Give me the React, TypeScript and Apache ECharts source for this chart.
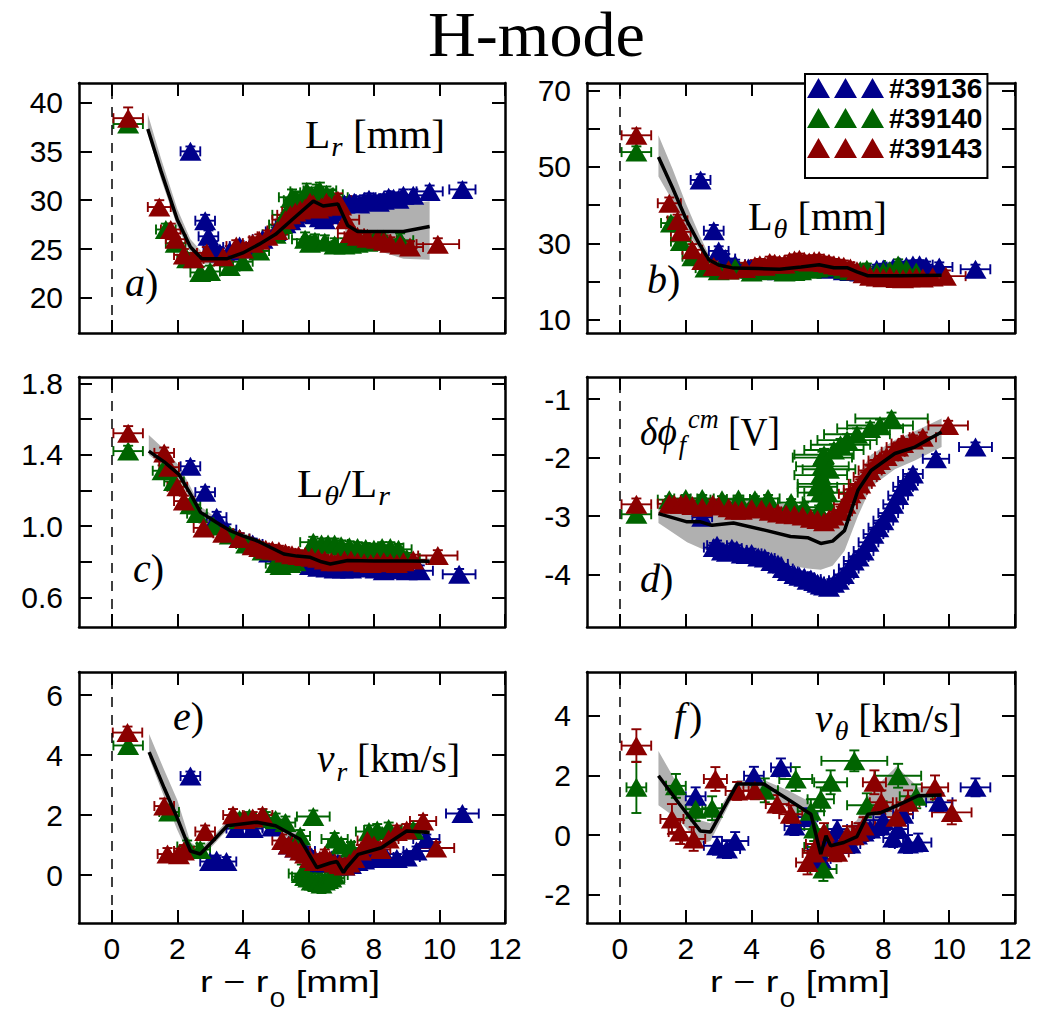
import React, { useEffect, useRef } from "react";
import * as echarts from "echarts";

type Pt = [number, number, number, number]; // x, y, xerr, yerr

const BLUE = "#00008b";
const GREEN = "#006400";
const RED = "#8b0000";
const BAND_COLOR = "#b0b0b0";
const NAMES = ["#39136", "#39140", "#39143"];

const X_MIN = -1;
const X_MAX = 12;
const X_TICKS = [0, 2, 4, 6, 8, 10, 12];

// ---------------- panel a : L_r [mm]
const A_BLUE: Pt[] = [
  [2.4, 35.0, 0.3, 0.5], [2.85, 27.9, 0.3, 0.6], [2.95, 26.3, 0.3, 0.6], [3.1, 25.2, 0.3, 0.6],
  [3.3, 24.6, 0.3, 0.5], [3.6, 24.8, 0.3, 0.5], [3.9, 25.3, 0.3, 0.5], [4.2, 25.0, 0.3, 0.5],
  [4.6, 26.0, 0.3, 0.5], [5.0, 26.8, 0.3, 0.6], [5.3, 27.6, 0.3, 0.6], [5.45, 27.9, 0.3, 0.6],
  [5.6, 28.2, 0.4, 0.6], [5.9, 28.8, 0.4, 0.6], [6.05, 28.6, 0.4, 0.6], [6.2, 28.5, 0.4, 0.6],
  [6.35, 28.2, 0.4, 0.6], [6.5, 28.0, 0.4, 0.6], [6.65, 28.5, 0.4, 0.6], [6.8, 28.8, 0.4, 0.6],
  [7.1, 29.6, 0.4, 0.6], [7.25, 29.7, 0.4, 0.6], [7.4, 29.8, 0.4, 0.6], [7.55, 29.6, 0.4, 0.6],
  [7.7, 29.9, 0.4, 0.6], [7.85, 30.1, 0.4, 0.6], [8.0, 29.9, 0.4, 0.6], [8.15, 29.8, 0.4, 0.6],
  [8.3, 30.0, 0.4, 0.6], [8.45, 30.3, 0.4, 0.6], [8.6, 30.2, 0.4, 0.6], [8.75, 30.1, 0.4, 0.6],
  [8.9, 30.5, 0.4, 0.6], [9.2, 30.5, 0.4, 0.6], [9.7, 30.9, 0.4, 0.6], [10.7, 31.1, 0.4, 0.7],
];
const A_GREEN: Pt[] = [
  [0.5, 37.8, 0.45, 0.6], [1.65, 27.0, 0.3, 0.6], [1.95, 25.6, 0.3, 0.6], [2.3, 24.0, 0.3, 0.6],
  [2.7, 22.6, 0.3, 0.6], [3.0, 22.7, 0.3, 0.6], [3.6, 23.2, 0.3, 0.6], [4.0, 23.7, 0.3, 0.6],
  [4.5, 24.8, 0.3, 0.6], [5.0, 26.5, 0.4, 0.7], [5.2, 27.5, 0.4, 0.7], [5.3, 28.5, 0.4, 0.8],
  [5.5, 30.3, 0.4, 0.8], [5.65, 30.0, 0.4, 0.8], [5.8, 29.8, 0.5, 0.8], [5.95, 30.9, 0.5, 0.8],
  [6.1, 30.5, 0.5, 0.8], [6.25, 30.8, 0.5, 0.8], [6.35, 31.0, 0.5, 0.8], [6.55, 30.6, 0.5, 0.8],
  [6.7, 30.3, 0.5, 0.8], [5.9, 26.0, 0.4, 0.7], [6.05, 25.6, 0.4, 0.7], [6.2, 25.8, 0.4, 0.7],
  [6.5, 25.7, 0.4, 0.7], [6.8, 25.4, 0.4, 0.7], [7.1, 25.4, 0.4, 0.7], [7.3, 25.5, 0.4, 0.7],
  [7.5, 25.6, 0.4, 0.7], [7.8, 25.7, 0.4, 0.7], [8.0, 25.8, 0.4, 0.7], [8.3, 26.0, 0.4, 0.7],
  [8.8, 25.9, 0.4, 0.7],
];
const A_RED: Pt[] = [
  [0.5, 38.4, 0.45, 1.1], [1.45, 29.3, 0.35, 0.7], [1.8, 27.0, 0.3, 0.6], [1.95, 26.0, 0.3, 0.6],
  [2.2, 24.4, 0.3, 0.6], [2.5, 24.0, 0.3, 0.6], [2.9, 24.6, 0.3, 0.6], [3.4, 24.2, 0.3, 0.6],
  [3.8, 25.3, 0.3, 0.6], [4.0, 25.0, 0.3, 0.6], [4.3, 25.6, 0.3, 0.6], [4.5, 25.9, 0.3, 0.6],
  [4.75, 26.3, 0.3, 0.6], [5.05, 26.9, 0.3, 0.6], [5.3, 28.0, 0.4, 0.7], [5.45, 28.5, 0.4, 0.7],
  [5.6, 28.8, 0.4, 0.7], [5.75, 29.0, 0.4, 0.7], [5.9, 29.2, 0.4, 0.7], [6.05, 29.8, 0.4, 0.7],
  [6.15, 29.6, 0.4, 0.7], [6.3, 29.1, 0.4, 0.7], [6.4, 29.3, 0.4, 0.7], [6.55, 29.8, 0.4, 0.7],
  [6.65, 29.4, 0.4, 0.7], [6.8, 29.6, 0.4, 0.7], [6.9, 30.0, 0.4, 0.7], [7.0, 29.4, 0.4, 0.7],
  [7.15, 28.0, 0.4, 0.7], [7.3, 26.6, 0.4, 0.6], [7.5, 26.3, 0.4, 0.6], [7.8, 26.1, 0.4, 0.6],
  [8.1, 26.0, 0.4, 0.6], [8.3, 25.8, 0.4, 0.6], [8.5, 25.6, 0.4, 0.6], [8.8, 25.4, 0.4, 0.6],
  [9.1, 25.2, 0.4, 0.6], [9.95, 25.5, 0.65, 0.6],
];
const A_LINE_X = [1.1, 1.5, 2.0, 2.4, 2.75, 3.5, 4.0, 4.5, 5.0, 5.5, 6.15, 6.45, 6.9, 7.2, 7.5, 8.9, 9.7];
const A_LINE_Y = [37.3, 33.0, 28.0, 25.2, 24.0, 24.0, 24.6, 25.5, 26.5, 28.0, 29.9, 29.4, 29.6, 27.4, 26.8, 26.8, 27.3];
const A_BAND_HI = [38.8, 34.3, 29.1, 26.0, 24.7, 24.7, 25.2, 26.1, 27.2, 28.8, 30.6, 30.2, 30.3, 28.8, 28.6, 29.6, 29.9];
const A_BAND_LO = [36.9, 32.2, 27.3, 24.6, 23.5, 23.5, 24.1, 25.0, 26.0, 27.3, 29.2, 28.6, 28.7, 26.3, 25.5, 24.0, 23.9];

// ---------------- panel b : L_theta [mm]
const B_BLUE: Pt[] = [
  [2.45, 46.6, 0.3, 1.5], [2.85, 33.3, 0.3, 1.5], [3.0, 28.0, 0.3, 1.2], [3.2, 26.0, 0.3, 1.2],
  [3.5, 24.5, 0.3, 1.2], [3.9, 23.5, 0.3, 1.2], [4.0, 23.3, 0.3, 1.2], [4.3, 23.0, 0.3, 1.2],
  [4.8, 22.8, 0.3, 1.2], [5.0, 22.9, 0.3, 1.2], [5.3, 23.5, 0.3, 1.2], [5.8, 23.8, 0.3, 1.2],
  [6.0, 23.6, 0.3, 1.2], [6.3, 23.2, 0.3, 1.2], [6.8, 22.8, 0.3, 1.2], [7.0, 22.6, 0.3, 1.2],
  [7.3, 22.5, 0.4, 1.2], [7.5, 22.7, 0.4, 1.2], [7.8, 23.2, 0.4, 1.2], [8.0, 23.3, 0.4, 1.2],
  [8.3, 23.6, 0.4, 1.2], [8.5, 23.9, 0.4, 1.2], [8.7, 24.0, 0.4, 1.2], [8.9, 24.3, 0.4, 1.2],
  [9.1, 24.4, 0.4, 1.2], [9.3, 24.0, 0.4, 1.2], [9.7, 23.8, 0.4, 1.2], [10.8, 23.2, 0.45, 1.2],
];
const B_GREEN: Pt[] = [
  [0.5, 53.9, 0.45, 1.5], [1.55, 35.3, 0.3, 1.5], [1.85, 30.5, 0.3, 1.5], [2.2, 26.5, 0.3, 1.5],
  [2.6, 23.5, 0.3, 1.5], [3.0, 22.8, 0.3, 1.5], [3.3, 23.0, 0.3, 1.5], [3.5, 23.6, 0.3, 1.5],
  [3.8, 23.2, 0.3, 1.5], [4.0, 22.5, 0.3, 1.5], [4.3, 22.8, 0.3, 1.5], [4.5, 23.0, 0.3, 1.5],
  [4.8, 22.9, 0.3, 1.5], [5.0, 22.5, 0.3, 1.5], [5.3, 22.6, 0.3, 1.5], [5.5, 22.8, 0.3, 1.5],
  [5.8, 23.2, 0.3, 1.5], [6.0, 23.5, 0.4, 1.5], [6.3, 23.9, 0.4, 1.5], [6.5, 23.8, 0.4, 1.5],
  [6.8, 23.2, 0.4, 1.5], [7.0, 22.8, 0.4, 1.5], [7.3, 22.9, 0.4, 1.5], [7.5, 23.2, 0.4, 1.5],
  [7.8, 22.4, 0.4, 1.5], [8.0, 22.6, 0.4, 1.5], [8.2, 22.9, 0.4, 1.5], [8.45, 24.3, 0.4, 1.5],
  [8.7, 23.3, 0.4, 1.5], [9.0, 22.5, 0.4, 1.5],
];
const B_RED: Pt[] = [
  [0.5, 58.3, 0.45, 1.8], [1.5, 40.5, 0.35, 1.5], [1.75, 36.0, 0.3, 1.5], [1.85, 33.0, 0.3, 1.5],
  [2.2, 28.3, 0.3, 1.5], [2.5, 25.5, 0.3, 1.5], [2.85, 23.9, 0.3, 1.5], [3.3, 23.0, 0.3, 1.5],
  [3.8, 23.4, 0.3, 1.5], [4.1, 24.1, 0.3, 1.5], [4.25, 24.4, 0.3, 1.5], [4.4, 24.0, 0.3, 1.5],
  [4.55, 25.0, 0.3, 1.5], [4.7, 24.8, 0.3, 1.5], [4.85, 24.5, 0.3, 1.5], [5.0, 24.6, 0.3, 1.5],
  [5.15, 25.3, 0.3, 1.5], [5.3, 25.6, 0.3, 1.5], [5.45, 25.8, 0.3, 1.5], [5.6, 25.3, 0.3, 1.5],
  [5.75, 25.1, 0.3, 1.5], [5.9, 25.4, 0.3, 1.5], [6.05, 25.5, 0.3, 1.5], [6.2, 25.0, 0.3, 1.5],
  [6.35, 24.8, 0.3, 1.5], [6.5, 24.4, 0.3, 1.5], [6.65, 24.2, 0.3, 1.5], [6.8, 24.0, 0.3, 1.5],
  [7.0, 23.5, 0.3, 1.5], [7.2, 22.8, 0.4, 1.5], [7.4, 22.0, 0.4, 1.5], [7.6, 21.4, 0.4, 1.5],
  [7.8, 21.2, 0.4, 1.5], [8.0, 21.0, 0.4, 1.5], [8.2, 21.3, 0.4, 1.5], [8.4, 20.8, 0.4, 1.5],
  [8.6, 20.7, 0.4, 1.5], [8.8, 21.0, 0.4, 1.5], [9.0, 21.1, 0.4, 1.5], [9.2, 20.9, 0.4, 1.5],
  [9.5, 21.2, 0.4, 1.5], [9.9, 21.4, 0.6, 1.5],
];
const B_LINE_X = [1.17, 1.6, 2.0, 2.4, 2.7, 3.0, 3.45, 4.2, 4.85, 5.5, 6.05, 6.5, 6.9, 7.2, 7.53, 8.5, 9.77];
const B_LINE_Y = [52.6, 44.5, 36.5, 30.0, 25.7, 24.3, 23.5, 23.4, 23.2, 23.8, 24.4, 23.6, 23.6, 22.5, 21.5, 21.5, 21.6];
const B_BAND_HI = [58.3, 49.5, 40.5, 32.5, 27.0, 25.0, 24.2, 24.0, 23.8, 24.4, 25.0, 24.2, 24.2, 23.2, 22.2, 22.2, 22.4];
const B_BAND_LO = [47.5, 41.0, 33.5, 28.5, 24.8, 23.6, 22.8, 22.8, 22.6, 23.2, 23.8, 23.0, 23.0, 21.8, 20.8, 20.8, 20.8];

// ---------------- panel c : L_theta / L_r
const C_BLUE: Pt[] = [
  [2.4, 1.335, 0.3, 0.03], [2.85, 1.19, 0.3, 0.03], [3.2, 1.05, 0.3, 0.03], [3.5, 0.98, 0.3, 0.03],
  [3.9, 0.93, 0.3, 0.03], [4.3, 0.9, 0.3, 0.03], [4.8, 0.85, 0.3, 0.03], [5.3, 0.82, 0.3, 0.03],
  [5.8, 0.8, 0.3, 0.03], [6.05, 0.78, 0.3, 0.03], [6.3, 0.77, 0.3, 0.03], [6.55, 0.765, 0.3, 0.03],
  [6.8, 0.76, 0.3, 0.03], [7.05, 0.76, 0.3, 0.03], [7.3, 0.76, 0.4, 0.03], [7.55, 0.765, 0.4, 0.03],
  [7.8, 0.77, 0.4, 0.03], [8.05, 0.76, 0.4, 0.03], [8.3, 0.75, 0.4, 0.03], [8.55, 0.755, 0.4, 0.03],
  [8.8, 0.76, 0.4, 0.03], [9.0, 0.75, 0.4, 0.03], [9.4, 0.75, 0.4, 0.03], [10.6, 0.73, 0.5, 0.03],
];
const C_GREEN: Pt[] = [
  [0.5, 1.42, 0.45, 0.03], [1.55, 1.31, 0.3, 0.03], [1.9, 1.25, 0.3, 0.03], [2.4, 1.12, 0.3, 0.03],
  [2.6, 1.07, 0.3, 0.03], [3.1, 1.0, 0.3, 0.03], [3.6, 0.95, 0.3, 0.03], [4.1, 0.9, 0.3, 0.03],
  [4.6, 0.86, 0.3, 0.03], [5.0, 0.79, 0.3, 0.03], [5.15, 0.78, 0.3, 0.03], [5.3, 0.79, 0.3, 0.03],
  [5.45, 0.79, 0.3, 0.03], [5.6, 0.8, 0.3, 0.03], [6.15, 0.91, 0.4, 0.03], [6.4, 0.9, 0.4, 0.03],
  [6.6, 0.9, 0.4, 0.03], [6.8, 0.9, 0.4, 0.03], [7.0, 0.89, 0.4, 0.03], [7.25, 0.885, 0.4, 0.03],
  [7.5, 0.88, 0.4, 0.03], [7.75, 0.875, 0.4, 0.03], [8.0, 0.87, 0.4, 0.03], [8.25, 0.88, 0.4, 0.03],
  [8.5, 0.88, 0.4, 0.03], [8.75, 0.87, 0.4, 0.03], [9.0, 0.82, 0.4, 0.03],
];
const C_RED: Pt[] = [
  [0.5, 1.52, 0.45, 0.04], [1.6, 1.41, 0.3, 0.03], [1.75, 1.33, 0.3, 0.03], [2.0, 1.22, 0.3, 0.03],
  [2.2, 1.14, 0.3, 0.03], [2.8, 0.99, 0.3, 0.03], [3.4, 0.96, 0.3, 0.03], [3.9, 0.93, 0.3, 0.03],
  [4.3, 0.89, 0.3, 0.03], [4.5, 0.88, 0.3, 0.03], [4.7, 0.87, 0.3, 0.03], [4.9, 0.865, 0.3, 0.03],
  [5.1, 0.86, 0.3, 0.03], [5.3, 0.85, 0.3, 0.03], [5.5, 0.84, 0.3, 0.03], [5.7, 0.835, 0.3, 0.03],
  [5.9, 0.83, 0.3, 0.03], [6.1, 0.825, 0.3, 0.03], [6.3, 0.82, 0.3, 0.03], [6.5, 0.81, 0.3, 0.03],
  [6.7, 0.8, 0.3, 0.03], [6.9, 0.8, 0.3, 0.03], [7.1, 0.81, 0.3, 0.03], [7.3, 0.81, 0.3, 0.03],
  [7.5, 0.8, 0.3, 0.03], [7.7, 0.795, 0.3, 0.03], [7.9, 0.79, 0.3, 0.03], [8.1, 0.8, 0.3, 0.03],
  [8.3, 0.8, 0.3, 0.03], [8.5, 0.795, 0.3, 0.03], [8.7, 0.79, 0.3, 0.03], [8.9, 0.8, 0.3, 0.03],
  [9.2, 0.81, 0.4, 0.03], [9.95, 0.835, 0.6, 0.03],
];
const C_LINE_X = [1.13, 1.6, 2.05, 2.4, 2.71, 3.2, 3.62, 4.0, 4.43, 4.85, 5.25, 5.65, 6.06, 6.4, 6.67, 7.2, 8.0, 9.0, 9.7];
const C_LINE_Y = [1.42, 1.36, 1.29, 1.18, 1.077, 1.02, 0.974, 0.945, 0.918, 0.88, 0.844, 0.832, 0.825, 0.8, 0.788, 0.807, 0.805, 0.805, 0.803];
const C_BAND_HI = [1.51, 1.43, 1.34, 1.22, 1.11, 1.045, 0.995, 0.962, 0.934, 0.895, 0.858, 0.846, 0.838, 0.814, 0.802, 0.821, 0.819, 0.819, 0.818];
const C_BAND_LO = [1.4, 1.33, 1.26, 1.15, 1.05, 1.0, 0.955, 0.928, 0.902, 0.865, 0.83, 0.818, 0.812, 0.786, 0.774, 0.793, 0.791, 0.791, 0.789];

// ---------------- panel d : delta phi_f^cm [V]
const D_BLUE: Pt[] = [
  [2.5, -3.02, 0.3, 0.06], [2.85, -3.54, 0.3, 0.08], [2.95, -3.5, 0.3, 0.08], [3.1, -3.6, 0.3, 0.08],
  [3.25, -3.62, 0.3, 0.08], [3.4, -3.55, 0.3, 0.08], [3.55, -3.58, 0.3, 0.08], [3.7, -3.65, 0.3, 0.08],
  [3.85, -3.66, 0.3, 0.08], [4.0, -3.64, 0.3, 0.08], [4.2, -3.7, 0.3, 0.08], [4.4, -3.72, 0.3, 0.08],
  [4.6, -3.78, 0.3, 0.08], [4.8, -3.82, 0.3, 0.08], [4.95, -3.9, 0.3, 0.08], [5.1, -3.95, 0.3, 0.08],
  [5.3, -4.0, 0.3, 0.08], [5.45, -4.03, 0.3, 0.08], [5.6, -4.05, 0.3, 0.08], [5.7, -4.1, 0.3, 0.08],
  [5.8, -4.08, 0.3, 0.08], [5.9, -4.12, 0.3, 0.08], [6.0, -4.15, 0.3, 0.08], [6.1, -4.18, 0.3, 0.08],
  [6.2, -4.2, 0.3, 0.08], [6.35, -4.22, 0.3, 0.08], [6.5, -4.15, 0.3, 0.08], [6.65, -4.1, 0.3, 0.08],
  [6.8, -4.0, 0.3, 0.08], [6.95, -3.9, 0.3, 0.08], [7.1, -3.77, 0.3, 0.08], [7.25, -3.7, 0.3, 0.08],
  [7.4, -3.6, 0.3, 0.08], [7.55, -3.45, 0.3, 0.08], [7.7, -3.31, 0.3, 0.08], [7.85, -3.2, 0.3, 0.08],
  [8.0, -3.08, 0.3, 0.08], [8.15, -2.95, 0.3, 0.08], [8.3, -2.8, 0.3, 0.08], [8.45, -2.65, 0.3, 0.08],
  [8.6, -2.5, 0.3, 0.08], [8.75, -2.4, 0.3, 0.08], [8.9, -2.28, 0.3, 0.08], [9.6, -2.02, 0.4, 0.08],
  [10.8, -1.82, 0.5, 0.08],
];
const D_GREEN: Pt[] = [
  [0.5, -2.97, 0.45, 0.06], [1.5, -2.72, 0.35, 0.06], [2.0, -2.7, 0.35, 0.06], [2.5, -2.7, 0.35, 0.06],
  [3.1, -2.72, 0.35, 0.06], [3.6, -2.71, 0.35, 0.06], [4.1, -2.72, 0.35, 0.06], [4.5, -2.7, 0.35, 0.06],
  [5.2, -2.77, 0.4, 0.06], [5.6, -2.85, 0.5, 0.08], [6.0, -2.5, 0.6, 0.08], [6.05, -2.9, 0.6, 0.08],
  [6.1, -2.6, 0.7, 0.08], [6.1, -2.3, 0.8, 0.08], [6.15, -2.15, 0.8, 0.08], [6.15, -2.0, 0.9, 0.1],
  [6.2, -1.95, 0.9, 0.1], [6.2, -2.45, 0.8, 0.08], [6.25, -2.75, 0.7, 0.08], [6.3, -2.6, 0.7, 0.08],
  [6.35, -2.2, 0.8, 0.08], [6.5, -1.87, 0.9, 0.1], [6.7, -1.78, 0.9, 0.1], [6.9, -1.7, 0.9, 0.1],
  [7.2, -1.6, 1.0, 0.1], [7.6, -1.5, 1.0, 0.1], [7.9, -1.45, 1.0, 0.1], [8.25, -1.33, 1.1, 0.1],
];
const D_RED: Pt[] = [
  [0.5, -2.8, 0.45, 0.1], [1.5, -2.79, 0.35, 0.08], [1.65, -2.8, 0.35, 0.08], [1.85, -2.8, 0.35, 0.08],
  [2.0, -2.78, 0.35, 0.08], [2.2, -2.82, 0.35, 0.08], [2.5, -2.85, 0.35, 0.08], [2.82, -2.8, 0.35, 0.08],
  [3.0, -2.83, 0.35, 0.08], [3.3, -2.86, 0.35, 0.08], [3.5, -2.9, 0.35, 0.08], [3.7, -2.9, 0.35, 0.08],
  [4.0, -2.87, 0.35, 0.08], [4.3, -2.88, 0.35, 0.08], [4.55, -2.92, 0.35, 0.08], [4.8, -2.95, 0.35, 0.08],
  [5.05, -2.97, 0.35, 0.08], [5.3, -2.98, 0.35, 0.08], [5.55, -3.0, 0.35, 0.08], [5.8, -3.04, 0.35, 0.08],
  [6.0, -3.06, 0.35, 0.08], [6.2, -3.1, 0.35, 0.08], [6.35, -3.05, 0.35, 0.08], [6.5, -3.0, 0.35, 0.08],
  [6.7, -2.92, 0.35, 0.08], [6.85, -2.8, 0.35, 0.08], [7.0, -2.62, 0.35, 0.08], [7.15, -2.55, 0.35, 0.08],
  [7.3, -2.45, 0.35, 0.08], [7.45, -2.33, 0.35, 0.08], [7.6, -2.22, 0.35, 0.08], [7.75, -2.12, 0.35, 0.08],
  [7.9, -2.05, 0.35, 0.08], [8.1, -1.98, 0.35, 0.08], [8.3, -1.9, 0.35, 0.08], [8.45, -1.82, 0.35, 0.08],
  [8.6, -1.76, 0.35, 0.08], [8.9, -1.7, 0.35, 0.08], [9.2, -1.65, 0.4, 0.08], [9.97, -1.45, 0.6, 0.08],
];
const D_LINE_X = [1.17, 2.04, 2.45, 2.8, 3.45, 4.46, 5.18, 5.7, 6.1, 6.46, 6.82, 7.23, 7.63, 8.35, 8.96, 9.77];
const D_LINE_Y = [-2.96, -3.1, -3.1, -3.16, -3.12, -3.25, -3.35, -3.37, -3.47, -3.43, -3.25, -2.56, -2.22, -1.93, -1.82, -1.56];
const D_BAND_HI = [-2.8, -2.72, -2.68, -2.7, -2.68, -2.72, -2.82, -2.95, -3.1, -3.05, -2.9, -2.3, -1.95, -1.7, -1.55, -1.33];
const D_BAND_LO = [-3.12, -3.45, -3.55, -3.62, -3.65, -3.75, -3.85, -3.9, -3.92, -3.85, -3.6, -3.0, -2.5, -2.2, -2.05, -1.82];

// ---------------- panel e : v_r [km/s]
const E_BLUE: Pt[] = [
  [2.4, 3.3, 0.3, 0.15], [3.0, 0.45, 0.3, 0.15], [3.2, 0.5, 0.3, 0.15], [3.5, 0.45, 0.3, 0.15],
  [3.8, 1.55, 0.3, 0.15], [4.3, 1.55, 0.3, 0.15], [4.9, 1.6, 0.3, 0.15], [5.4, 1.0, 0.3, 0.15],
  [5.6, 0.9, 0.3, 0.15], [5.9, 0.8, 0.3, 0.15], [6.1, 0.6, 0.3, 0.15], [6.3, 0.4, 0.3, 0.15],
  [6.5, 0.45, 0.3, 0.15], [6.7, 0.5, 0.3, 0.15], [6.9, 0.4, 0.3, 0.15], [7.1, 0.3, 0.3, 0.15],
  [7.3, 0.35, 0.3, 0.15], [7.5, 0.45, 0.3, 0.15], [7.7, 0.5, 0.3, 0.15], [7.9, 0.6, 0.4, 0.15],
  [8.2, 0.55, 0.4, 0.15], [8.4, 0.55, 0.4, 0.15], [8.7, 0.55, 0.4, 0.15], [9.0, 0.6, 0.4, 0.15],
  [9.3, 0.8, 0.4, 0.15], [9.6, 1.2, 0.4, 0.15], [10.7, 2.05, 0.5, 0.15],
];
const E_GREEN: Pt[] = [
  [0.5, 4.32, 0.45, 0.15], [1.75, 2.1, 0.3, 0.2], [2.3, 0.95, 0.3, 0.2], [2.7, 0.85, 0.3, 0.2],
  [3.9, 1.85, 0.3, 0.2], [4.2, 1.9, 0.3, 0.2], [4.7, 1.9, 0.3, 0.2], [5.0, 1.85, 0.3, 0.2],
  [5.3, 1.75, 0.3, 0.2], [5.75, 1.3, 0.3, 0.2], [6.15, 1.95, 0.5, 0.2], [5.8, 0.05, 0.4, 0.3],
  [5.9, -0.05, 0.4, 0.3], [6.0, -0.1, 0.4, 0.3], [6.1, -0.2, 0.4, 0.3], [6.2, -0.2, 0.4, 0.3],
  [6.3, -0.25, 0.4, 0.3], [6.4, -0.3, 0.4, 0.3], [6.5, -0.2, 0.4, 0.3], [6.6, -0.15, 0.4, 0.3],
  [6.7, -0.1, 0.4, 0.3], [6.8, 0.0, 0.4, 0.3], [6.8, 1.2, 0.4, 0.2], [7.0, 1.0, 0.4, 0.2],
  [7.3, 0.9, 0.4, 0.2], [7.85, 1.45, 0.4, 0.2], [8.1, 1.5, 0.4, 0.2], [8.45, 1.55, 0.4, 0.2],
  [9.2, 1.5, 0.4, 0.2],
];
const E_RED: Pt[] = [
  [0.48, 4.75, 0.45, 0.2], [1.6, 2.3, 0.3, 0.25], [1.7, 0.7, 0.3, 0.2], [2.05, 0.68, 0.3, 0.2],
  [2.2, 0.8, 0.3, 0.2], [2.85, 1.45, 0.3, 0.2], [3.7, 2.0, 0.3, 0.2], [4.05, 1.85, 0.3, 0.2],
  [4.3, 1.9, 0.3, 0.2], [4.6, 2.0, 0.3, 0.2], [5.2, 1.15, 0.3, 0.2], [5.4, 1.0, 0.3, 0.2],
  [5.6, 0.9, 0.3, 0.2], [5.75, 0.8, 0.3, 0.2], [5.9, 0.7, 0.3, 0.2], [6.05, 0.55, 0.3, 0.2],
  [6.2, 0.45, 0.3, 0.2], [6.35, 0.5, 0.3, 0.2], [6.5, 0.65, 0.3, 0.2], [6.65, 0.5, 0.3, 0.2],
  [6.8, 0.4, 0.3, 0.2], [6.95, 0.35, 0.3, 0.2], [7.1, 0.3, 0.3, 0.2], [7.25, 0.4, 0.3, 0.2],
  [7.4, 0.55, 0.3, 0.2], [7.6, 0.8, 0.3, 0.2], [7.8, 1.15, 0.3, 0.2], [8.0, 1.0, 0.3, 0.2],
  [8.2, 0.85, 0.3, 0.2], [8.45, 1.2, 0.3, 0.2], [8.7, 1.45, 0.3, 0.2], [9.0, 1.5, 0.3, 0.2],
  [9.5, 1.8, 0.4, 0.2], [9.9, 0.9, 0.55, 0.2],
];
const E_LINE_X = [1.14, 1.6, 2.0, 2.4, 2.7, 3.1, 3.52, 4.43, 5.0, 5.75, 6.26, 6.67, 6.87, 7.07, 7.17, 7.52, 8.23, 9.0, 9.7];
const E_LINE_Y = [4.1, 2.9, 1.9, 0.8, 0.7, 1.15, 1.64, 1.76, 1.64, 1.19, 0.25, 0.4, 0.45, 0.08, 0.25, 0.69, 0.91, 1.47, 1.42];
const E_BAND_HI = [4.7, 3.5, 2.5, 1.1, 0.85, 1.3, 1.8, 1.9, 1.8, 1.4, 0.5, 0.6, 0.65, 0.35, 0.45, 0.85, 1.05, 1.6, 1.6];
const E_BAND_LO = [3.9, 2.6, 1.5, 0.55, 0.55, 1.0, 1.5, 1.62, 1.48, 0.95, 0.05, 0.2, 0.25, -0.15, 0.05, 0.5, 0.75, 1.3, 1.25];

// ---------------- panel f : v_theta [km/s]
const F_BLUE: Pt[] = [
  [2.3, 1.3, 0.3, 0.3], [2.95, -0.36, 0.4, 0.3], [3.25, -0.47, 0.4, 0.3], [3.5, -0.2, 0.4, 0.3],
  [4.07, 1.99, 0.3, 0.3], [4.89, 2.27, 0.3, 0.3], [5.3, 0.3, 0.3, 0.3], [5.7, 0.6, 0.3, 0.3],
  [6.0, -0.5, 0.3, 0.3], [6.1, -0.8, 0.3, 0.3], [6.3, -0.2, 0.3, 0.3], [6.45, -0.1, 0.3, 0.3],
  [6.6, 0.2, 0.3, 0.3], [6.8, -0.2, 0.3, 0.3], [7.0, -0.3, 0.3, 0.3], [7.2, 0.0, 0.3, 0.3],
  [7.4, 0.1, 0.3, 0.3], [7.6, 0.2, 0.3, 0.3], [7.9, 0.3, 0.3, 0.3], [8.0, 0.5, 0.3, 0.3],
  [8.3, -0.1, 0.3, 0.3], [8.45, 0.2, 0.3, 0.3], [8.6, 0.7, 0.3, 0.3], [8.75, -0.3, 0.4, 0.3],
  [9.06, -0.25, 0.4, 0.3], [9.7, 1.1, 0.4, 0.3], [10.8, 1.6, 0.45, 0.3],
];
const F_GREEN: Pt[] = [
  [0.5, 1.6, 0.3, 0.86], [1.7, 1.65, 0.3, 0.4], [2.3, 0.87, 0.3, 0.4], [2.8, 0.9, 0.3, 0.4],
  [4.4, 1.5, 0.4, 0.4], [5.34, 1.88, 0.5, 0.4], [5.8, 0.8, 0.4, 0.4], [5.9, 0.2, 0.4, 0.4],
  [6.0, -0.4, 0.4, 0.4], [6.1, 1.2, 0.4, 0.4], [6.18, -1.14, 0.4, 0.4], [6.4, 1.77, 0.5, 0.4],
  [7.12, 2.49, 1.0, 0.35], [7.5, 1.0, 0.6, 0.4], [8.45, 1.99, 0.7, 0.4], [9.0, 1.3, 0.5, 0.4],
];
const F_RED: Pt[] = [
  [0.5, 3.0, 0.45, 0.55], [1.58, 0.54, 0.35, 0.5], [1.83, 0.1, 0.35, 0.4], [2.24, -0.13, 0.35, 0.4],
  [2.9, 1.88, 0.35, 0.4], [3.56, 1.48, 0.35, 0.3], [4.1, 1.5, 0.35, 0.3], [4.78, 1.04, 0.35, 0.3],
  [5.19, 0.7, 0.35, 0.3], [5.7, -0.92, 0.35, 0.4], [5.9, -0.6, 0.35, 0.3], [6.0, -0.3, 0.35, 0.3],
  [6.2, 0.1, 0.35, 0.3], [6.4, -0.4, 0.35, 0.3], [6.6, -0.58, 0.35, 0.3], [6.75, -0.3, 0.35, 0.3],
  [6.9, 0.0, 0.35, 0.3], [7.1, -0.02, 0.35, 0.3], [7.25, 0.1, 0.35, 0.3], [7.4, 0.3, 0.35, 0.3],
  [7.73, 1.77, 0.35, 0.4], [7.94, 1.1, 0.35, 0.4], [8.4, 0.6, 0.35, 0.4], [8.75, 1.1, 0.35, 0.4],
  [9.57, 1.6, 0.4, 0.4], [10.08, 0.76, 0.6, 0.4],
];
const F_LINE_X = [1.17, 1.8, 2.44, 2.75, 3.56, 4.37, 5.1, 5.8, 6.1, 6.26, 6.4, 6.8, 7.2, 7.53, 7.94, 8.4, 9.06, 9.77];
const F_LINE_Y = [1.99, 1.05, 0.14, 0.1, 1.71, 1.71, 1.2, 0.7, -0.64, -0.02, -0.36, -0.25, -0.05, 0.7, 0.76, 0.98, 1.32, 1.34];
const F_BAND_HI = [2.82, 1.6, 0.5, 0.4, 1.85, 1.85, 1.5, 1.1, 0.0, 0.3, 0.1, 0.2, 0.5, 1.3, 1.8, 2.3, 1.6, 1.6];
const F_BAND_LO = [1.0, 0.5, -0.3, -0.2, 1.55, 1.55, 0.9, 0.3, -1.0, -0.4, -0.6, -0.6, -0.4, 0.3, 0.45, 0.7, 1.05, 1.1];

// ---------------- axes per panel
const A_Y = { min: 16.4, max: 42, ticks: [20, 25, 30, 35, 40], labels: [20, 25, 30, 35, 40], dec: 0 };
const B_Y = { min: 6.5, max: 72, ticks: [10, 20, 30, 40, 50, 60, 70], labels: [10, 30, 50, 70], dec: 0 };
const C_Y = { min: 0.435, max: 1.835, ticks: [0.6, 0.8, 1.0, 1.2, 1.4, 1.6, 1.8], labels: [0.6, 1.0, 1.4, 1.8], dec: 1 };
const D_Y = { min: -4.9, max: -0.62, ticks: [-4, -3, -2, -1], labels: [-4, -3, -2, -1], dec: 0 };
const E_Y = { min: -1.6, max: 6.77, ticks: [0, 2, 4, 6], labels: [0, 2, 4, 6], dec: 0 };
const F_Y = { min: -2.95, max: 5.47, ticks: [-2, 0, 2, 4], labels: [-2, 0, 2, 4], dec: 0 };

const SERIF = '"Liberation Serif", "Times New Roman", Times, serif';
const SANS = '"Liberation Sans", Arial, Helvetica, sans-serif';

const COLS = [
  { left: 79, width: 426 },
  { left: 587, width: 428 },
];
const ROWS = [
  { top: 83, height: 250 },
  { top: 377, height: 250 },
  { top: 672, height: 251 },
];

const PANELS = [
  { y: A_Y, blue: A_BLUE, green: A_GREEN, red: A_RED, lx: A_LINE_X, ly: A_LINE_Y, hi: A_BAND_HI, lo: A_BAND_LO },
  { y: B_Y, blue: B_BLUE, green: B_GREEN, red: B_RED, lx: B_LINE_X, ly: B_LINE_Y, hi: B_BAND_HI, lo: B_BAND_LO },
  { y: C_Y, blue: C_BLUE, green: C_GREEN, red: C_RED, lx: C_LINE_X, ly: C_LINE_Y, hi: C_BAND_HI, lo: C_BAND_LO },
  { y: D_Y, blue: D_BLUE, green: D_GREEN, red: D_RED, lx: D_LINE_X, ly: D_LINE_Y, hi: D_BAND_HI, lo: D_BAND_LO },
  { y: E_Y, blue: E_BLUE, green: E_GREEN, red: E_RED, lx: E_LINE_X, ly: E_LINE_Y, hi: E_BAND_HI, lo: E_BAND_LO },
  { y: F_Y, blue: F_BLUE, green: F_GREEN, red: F_RED, lx: F_LINE_X, ly: F_LINE_Y, hi: F_BAND_HI, lo: F_BAND_LO },
];

// ---------------- text helpers
let measureCtx: CanvasRenderingContext2D | null = null;
function textWidth(t: string, font: string, size: number): number {
  if (!measureCtx) {
    const c = document.createElement("canvas");
    measureCtx = c.getContext("2d");
  }
  if (!measureCtx) return t.length * 0.5 * size;
  measureCtx.font = font;
  return measureCtx.measureText(t).width;
}

type Part = { t: string; size: number; italic?: boolean; dy?: number; sameX?: boolean; dx?: number };

function richLabel(parts: Part[], x0: number, baseline: number, target: number | null, family: string) {
  let cx = 0;
  let lastX = 0;
  const children: any[] = [];
  for (const p of parts) {
    const font = `${p.italic ? "italic " : ""}${p.size}px ${family}`;
    const w = textWidth(p.t, font, p.size);
    const px = (p.sameX ? lastX : cx) + (p.dx || 0);
    children.push({
      type: "text",
      x: px,
      y: baseline + (p.dy || 0) - 0.34 * p.size,
      style: {
        text: p.t,
        font,
        fill: "#000",
        textAlign: "left",
        textVerticalAlign: "middle",
        align: "left",
        verticalAlign: "middle",
      },
    });
    lastX = px;
    cx = Math.max(cx, px + w);
  }
  const s = target ? target / cx : 1;
  return { type: "group", x: x0, y: 0, scaleX: s, silent: true, children };
}

function buildGraphics() {
  const g: any[] = [];
  g.push(richLabel([{ t: "H-mode", size: 64 }], 428, 56, 217, SERIF));
  // panel tags
  const tag = (ch: string, x: number, b: number) =>
    richLabel([{ t: ch, size: 40, italic: true }, { t: ")", size: 40, dx: ch === "f" ? 4 : 0 }], x, b, null, SERIF);
  g.push(tag("a", 125, 296));
  g.push(tag("b", 647, 293));
  g.push(tag("c", 133, 582));
  g.push(tag("d", 640, 592));
  g.push(tag("e", 173, 730));
  g.push(tag("f", 674, 730));
  // quantity labels
  g.push(richLabel([{ t: "L", size: 40 }, { t: "r", size: 28, italic: true, dy: 8, dx: 1 }, { t: " [mm]", size: 40 }], 305, 148, 140, SERIF));
  g.push(richLabel([{ t: "L", size: 40 }, { t: "θ", size: 28, italic: true, dy: 8, dx: 1 }, { t: " [mm]", size: 40 }], 748, 230, 139, SERIF));
  g.push(richLabel([{ t: "L", size: 40 }, { t: "θ", size: 28, italic: true, dy: 8, dx: 1 }, { t: "/L", size: 40 }, { t: "r", size: 28, italic: true, dy: 8, dx: 1 }], 297, 497, 93, SERIF));
  g.push(richLabel([
    { t: "δϕ", size: 40, italic: true },
    { t: "f", size: 28, italic: true, dy: 9, dx: 2 },
    { t: "cm", size: 28, italic: true, dy: -17, sameX: true, dx: 10 },
    { t: " [V]", size: 40 },
  ], 640, 445, 140, SERIF));
  g.push(richLabel([{ t: "v", size: 40, italic: true }, { t: "r", size: 28, italic: true, dy: 8, dx: 2 }, { t: " [km/s]", size: 40 }], 317, 773, 143, SERIF));
  g.push(richLabel([{ t: "v", size: 40, italic: true }, { t: "θ", size: 28, italic: true, dy: 8, dx: 2 }, { t: " [km/s]", size: 40 }], 815, 732, 147, SERIF));
  // x axis titles
  const xTitle = (x: number) =>
    richLabel([{ t: "r − r", size: 30 }, { t: "0", size: 22, dy: 15, dx: 1 }, { t: " [mm]", size: 30 }], x, 992, 180, SANS);
  g.push(xTitle(200));
  g.push(xTitle(710));
  return g;
}

function buildOption() {
  const grid: any[] = [];
  const xAxis: any[] = [];
  const yAxis: any[] = [];
  const series: any[] = [];

  const axisLine = { show: true, onZero: false, lineStyle: { color: "#000", width: 2.5 } };

  PANELS.forEach((p, i) => {
    const col = COLS[i % 2];
    const row = ROWS[Math.floor(i / 2)];
    grid.push({ left: col.left, top: row.top, width: col.width, height: row.height, containLabel: false });

    const xCommon = {
      type: "value",
      gridIndex: i,
      min: X_MIN,
      max: X_MAX,
      axisLine,
      splitLine: { show: false },
      axisTick: { show: true, inside: true, length: 13, lineStyle: { color: "#000", width: 2 }, customValues: X_TICKS },
    };
    xAxis.push({
      ...xCommon,
      position: "bottom",
      axisLabel: {
        show: i >= 4,
        customValues: X_TICKS,
        color: "#000",
        fontSize: 30,
        fontFamily: SANS,
        margin: 10,
        showMinLabel: true,
        showMaxLabel: true,
      },
    });
    xAxis.push({ ...xCommon, position: "top", axisLabel: { show: false } });

    const yCommon = {
      type: "value",
      gridIndex: i,
      min: p.y.min,
      max: p.y.max,
      axisLine,
      splitLine: { show: false },
      axisTick: { show: true, inside: true, length: 13, lineStyle: { color: "#000", width: 2 }, customValues: p.y.ticks },
    };
    const dec = p.y.dec;
    yAxis.push({
      ...yCommon,
      position: "left",
      axisLabel: {
        show: true,
        customValues: p.y.labels,
        color: "#000",
        fontSize: 30,
        fontFamily: SANS,
        margin: 16,
        showMinLabel: true,
        showMaxLabel: true,
        formatter: (v: number) => v.toFixed(dec),
      },
    });
    yAxis.push({ ...yCommon, position: "right", axisLabel: { show: false } });

    const xi = 2 * i;
    const yi = 2 * i;

    // grey band
    const bandRows = p.lx.map((x, k) => [x, p.lo[k], p.hi[k]]);
    series.push({
      type: "custom",
      xAxisIndex: xi,
      yAxisIndex: yi,
      silent: true,
      z: 1,
      data: bandRows,
      encode: { x: 0, y: [1, 2] },
      renderItem: (params: any, api: any) => {
        if (params.dataIndex !== 0) return null;
        const top = bandRows.map((r) => api.coord([r[0], r[2]]));
        const bot = bandRows.map((r) => api.coord([r[0], r[1]])).reverse();
        return { type: "polygon", shape: { points: top.concat(bot) }, style: { fill: BAND_COLOR } };
      },
      markLine: {
        silent: true,
        symbol: ["none", "none"],
        label: { show: false },
        lineStyle: { color: "#000", type: [10, 8], width: 1.5 },
        data: [{ xAxis: 0 }],
      },
    });

    const groups: [Pt[], string, string][] = [
      [p.blue, BLUE, NAMES[0]],
      [p.green, GREEN, NAMES[1]],
      [p.red, RED, NAMES[2]],
    ];
    groups.forEach(([pts, color, name]) => {
      series.push({
        type: "custom",
        xAxisIndex: xi,
        yAxisIndex: yi,
        silent: true,
        z: 2,
        data: pts,
        encode: { x: 0, y: 1 },
        renderItem: (params: any, api: any) => {
          const x = api.value(0);
          const y = api.value(1);
          const ex = api.value(2);
          const ey = api.value(3);
          const l = api.coord([x - ex, y]);
          const r = api.coord([x + ex, y]);
          const t = api.coord([x, y + ey]);
          const b = api.coord([x, y - ey]);
          const c = 5;
          const st = { stroke: color, lineWidth: 1.9 };
          const ln = (x1: number, y1: number, x2: number, y2: number) => ({
            type: "line",
            shape: { x1, y1, x2, y2 },
            style: st,
          });
          return {
            type: "group",
            children: [
              ln(l[0], l[1], r[0], r[1]),
              ln(l[0], l[1] - c, l[0], l[1] + c),
              ln(r[0], r[1] - c, r[0], r[1] + c),
              ln(t[0], t[1], b[0], b[1]),
              ln(t[0] - c, t[1], t[0] + c, t[1]),
              ln(b[0] - c, b[1], b[0] + c, b[1]),
            ],
          };
        },
      });
      series.push({
        type: "scatter",
        name,
        xAxisIndex: xi,
        yAxisIndex: yi,
        silent: true,
        z: 2,
        data: pts.map((q) => [q[0], q[1]]),
        symbol: "triangle",
        symbolSize: [22, 19],
        itemStyle: { color, opacity: 1 },
      });
    });

    series.push({
      type: "line",
      xAxisIndex: xi,
      yAxisIndex: yi,
      silent: true,
      z: 3,
      data: p.lx.map((x, k) => [x, p.ly[k]]),
      symbol: "none",
      showSymbol: false,
      lineStyle: { color: "#000", width: 3.5 },
    });
  });

  return {
    animation: false,
    backgroundColor: "#fff",
    grid,
    xAxis,
    yAxis,
    series,
    legend: {
      data: NAMES,
      orient: "vertical",
      left: 805,
      top: 74,
      itemWidth: 77,
      itemHeight: 20,
      itemGap: 2,
      icon: "path://M0,20L11.5,0L23,20ZM27,20L38.5,0L50,20ZM54,20L65.5,0L77,20Z",
      textStyle: { fontFamily: SANS, fontWeight: "bold", fontSize: 28, color: "#000" },
      borderColor: "#000",
      borderWidth: 2,
      borderRadius: 0,
      backgroundColor: "#fff",
      padding: [0, 5, 16, 2],
      selectedMode: false,
      z: 10,
    },
    graphic: buildGraphics(),
  };
}

export default function App() {
  const ref = useRef<HTMLDivElement>(null);
  useEffect(() => {
    document.body.style.margin = "0";
    if (!ref.current) return;
    const chart = echarts.init(ref.current, null, { renderer: "svg" });
    chart.setOption(buildOption() as any);
    return () => chart.dispose();
  }, []);
  return <div ref={ref} style={{ width: 1039, height: 1011, background: "#fff" }} />;
}
